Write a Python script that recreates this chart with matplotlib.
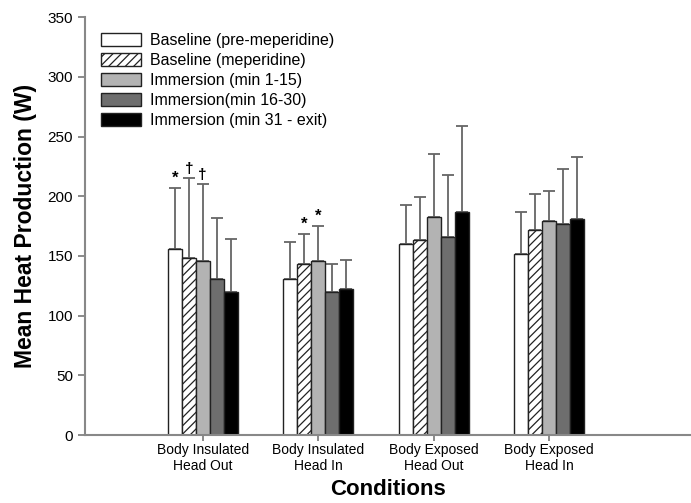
import numpy as np
import matplotlib
matplotlib.use("Agg")
import matplotlib.pyplot as plt

plt.rcParams['font.family'] = ['Liberation Sans', 'DejaVu Sans']
plt.rcParams['hatch.linewidth'] = 0.9

conditions = ["Body Insulated\nHead Out", "Body Insulated\nHead In",
              "Body Exposed\nHead Out", "Body Exposed\nHead In"]
series = ["Baseline (pre-meperidine)", "Baseline (meperidine)",
          "Immersion (min 1-15)", "Immersion(min 16-30)",
          "Immersion (min 31 - exit)"]

# means and SD (upper error only), per series across conditions
means = [
    [156, 131, 160, 152],
    [148, 143, 163, 172],
    [146, 146, 183, 179],
    [131, 120, 166, 177],
    [120, 122, 187, 181],
]
sds = [
    [51, 31, 33, 35],
    [67, 25, 36, 30],
    [64, 29, 52, 25],
    [51, 23, 52, 46],
    [44, 25, 72, 52],
]
# significance marks: (series index, condition index, symbol)
marks = [(0, 0, "*"), (1, 0, "\u2020"), (2, 0, "\u2020"), (1, 1, "*"), (2, 1, "*")]

colors = ["white", "white", "#b3b3b3", "#6e6e6e", "black"]
hatches = [None, "////", None, None, None]

fig = plt.figure(figsize=(6.91, 5.03), dpi=100)
ax = fig.add_axes([0.123, 0.135, 0.877, 0.831])

x = np.arange(1, len(conditions) + 1)
w = 0.121
for i, name in enumerate(series):
    pos = x + (i - 2) * w
    ax.bar(pos, means[i], width=w, color=colors[i], edgecolor="#222222",
           linewidth=1.0, hatch=hatches[i], label=name, zorder=2)
    ax.errorbar(pos, means[i], yerr=[np.zeros(len(x)), sds[i]], fmt="none",
                ecolor="#666666", elinewidth=1.3, capsize=4, capthick=1.3, zorder=1)

for si, ci, sym in marks:
    top = means[si][ci] + sds[si][ci]
    ax.text(x[ci] + (si - 2) * w, top + 2, sym, ha="center", va="bottom",
            fontsize=12 if sym == "*" else 11, fontweight="bold")

ax.set_xlim(-0.02, 5.23)
ax.set_ylim(0, 350)
ax.set_yticks(range(0, 351, 50))
ax.set_xticks(x)
ax.set_xticklabels(conditions, fontsize=10, linespacing=1.15)
ax.tick_params(axis="y", labelsize=11, color="#777777", length=5, width=1.2)
ax.tick_params(axis="x", color="#777777", length=4, width=1.2, pad=2)
for s in ["top", "right"]:
    ax.spines[s].set_visible(False)
for s in ["left", "bottom"]:
    ax.spines[s].set_color("#888888")
    ax.spines[s].set_linewidth(1.5)

ax.set_ylabel("Mean Heat Production (W)", fontsize=16.5, fontweight="bold", labelpad=8)
ax.set_xlabel("Conditions", fontsize=16, fontweight="bold", labelpad=4)

leg = ax.legend(loc="upper left", bbox_to_anchor=(0.01, 0.985), frameon=False,
                fontsize=11.5, handlelength=2.5, handleheight=0.9,
                labelspacing=0.3, handletextpad=0.6, borderaxespad=0.2)

fig.savefig("out.png", dpi=100)
